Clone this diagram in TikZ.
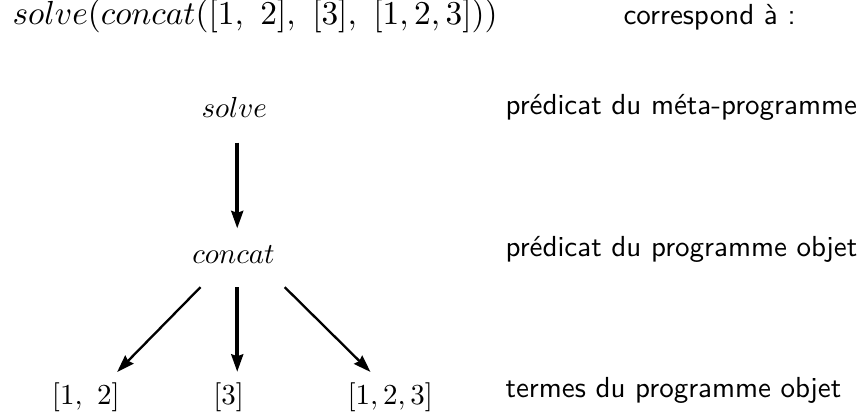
\documentclass[tikz,border=0pt]{standalone}
\usepackage{fontspec}
\usepackage{amsmath}
\usepackage{tikz}
\usetikzlibrary{arrows.meta,positioning,calc}

\begin{document}
\begin{tikzpicture}[
    term/.style={anchor=base, inner sep=3.33pt},
    role/.style={anchor=base west, inner sep=0pt, font=\sffamily},
    strong/.style={line width=1.4pt, -{Stealth[length=6pt, width=4pt, inset=0.6pt]}},
    thin/.style={line width=0.8pt, -{Stealth[length=6pt, width=4pt, inset=0.6pt]}}]
  \useasboundingbox (0,0) rectangle (10.41,5.09);

  %% Header
  \node[anchor=base west, inner sep=0pt, scale=1.15, transform shape] (goal) at (0.145,4.787) {$solve(concat([1,\ 2],\ [3],\ [1,2,3]))$};
  \node[role] (corr) at (7.55,4.787) {correspond à :};

  %% Tree
  \node[term] (solve)  at (2.84,3.66)  {$solve$};
  \node[term] (concat) at (2.83,1.90)  {$concat$};
  \node[term] (l12)    at (1.04,0.182) {$[1,\ 2]$};
  \node[term] (l3)     at (2.77,0.182) {$[3]$};
  \node[term] (l123)   at (4.73,0.182) {$[1,2,3]$};

  %% Roles
  \node[role] (meta) at (6.12,3.697) {prédicat du méta-programme};
  \node[role] (obj)  at (6.12,1.976) {prédicat du programme objet};
  \node[role] (args) at (6.12,0.267) {termes du programme objet};

  %% Arrows
  \draw[strong] ($(concat.base |- solve.base)+(0.045,-0.30)$) -- ($(concat.base)+(0.045,0.42)$);
  \draw[strong] ($(concat.base)+(0.045,-0.29)$) -- ($(concat.base |- l3.base)+(0.045,0.40)$);
  \draw[thin] ($(concat.base)+(-0.40,-0.29)$) -- ($(l12.base)+(0.38,0.40)$);
  \draw[thin] ($(concat.base)+(0.62,-0.29)$) -- ($(l123.base)+(-0.24,0.40)$);
\end{tikzpicture}
\end{document}
